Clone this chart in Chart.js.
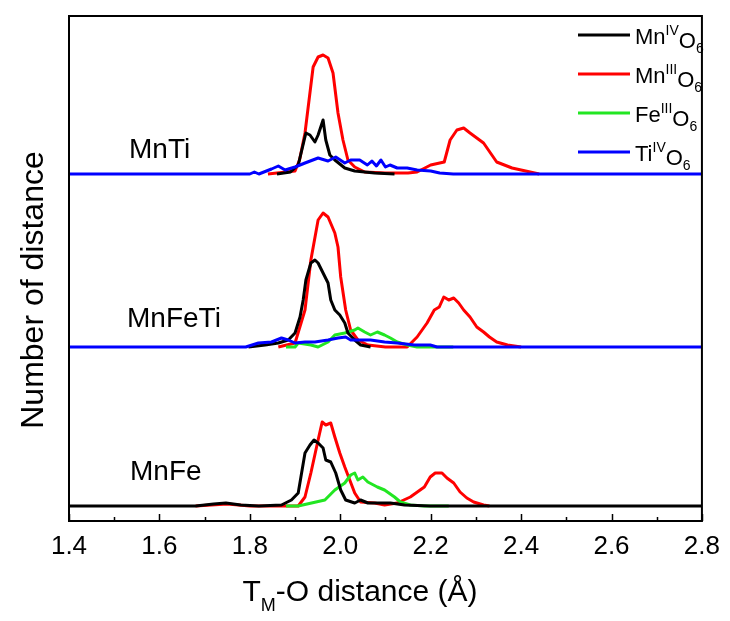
<!DOCTYPE html>
<html>
<head>
<meta charset="utf-8">
<script src="https://cdn.jsdelivr.net/npm/chart.js@4.4.1/dist/chart.umd.min.js"></script>
<style>
  html, body { margin: 0; padding: 0; background: #fff; }
  #wrap { width: 730px; height: 621px; position: relative; }
</style>
</head>
<body>
<div id="wrap"><canvas id="chart" width="730" height="621"></canvas></div>
<script>
// panels, stacked from top to bottom, each with its own baseline offset
const panelNames = ['MnTi', 'MnFeTi', 'MnFe'];
const panelOffsets = [34.7, 17.4, 1.5];

// x ticks (distance in Angstrom)
const xTicks = [1.4, 1.6, 1.8, 2.0, 2.2, 2.4, 2.6, 2.8];

// MnTi
const mnTi_MnIV_d = [1.86, 1.89, 1.907, 1.924, 1.933, 1.944, 1.951, 1.962, 1.968, 1.977, 1.988, 2.01, 2.032, 2.076, 2.12];
const mnTi_MnIV_n = [0, 0.2, 0.9, 4.1, 3.9, 3.2, 3.9, 5.4, 3.4, 1.9, 1.4, 0.6, 0.3, 0.1, 0];
const mnTi_MnIII_d = [1.84, 1.86, 1.9, 1.91, 1.922, 1.94, 1.951, 1.962, 1.973, 1.984, 1.995, 2.006, 2.017, 2.032, 2.054, 2.1, 2.15, 2.17, 2.2, 2.23, 2.243, 2.258, 2.273, 2.287, 2.302, 2.317, 2.346, 2.38, 2.4, 2.42, 2.44];
const mnTi_MnIII_n = [0, 0.1, 0.3, 1.4, 4.1, 10.7, 11.7, 11.9, 11.6, 10.1, 6.1, 3.4, 1.4, 0.7, 0.2, 0.1, 0.1, 0.2, 0.9, 1.2, 3.4, 4.4, 4.6, 4.1, 3.6, 3.1, 1.2, 0.6, 0.4, 0.2, 0];
const mnTi_TiIV_d = [1.4, 1.8, 1.81, 1.82, 1.848, 1.863, 1.878, 1.9, 1.922, 1.951, 1.973, 1.99, 2.01, 2.023, 2.043, 2.06, 2.07, 2.08, 2.09, 2.1, 2.11, 2.126, 2.148, 2.17, 2.2, 2.22, 2.25, 2.8];
const mnTi_TiIV_n = [0, 0, 0.2, 0, 0.5, 0.8, 0.4, 0.7, 1.1, 1.6, 1.3, 1.7, 1.1, 1.4, 1.4, 0.9, 1.3, 0.8, 1.4, 0.7, 0.9, 0.6, 0.6, 0.4, 0.3, 0.1, 0, 0];

// MnFeTi
const mnFeTi_MnIV_d = [1.797, 1.834, 1.863, 1.885, 1.9, 1.911, 1.918, 1.924, 1.935, 1.944, 1.951, 1.962, 1.973, 1.979, 1.988, 1.999, 2.01, 2.017, 2.032, 2.045, 2.067];
const mnFeTi_MnIV_n = [0, 0.2, 0.4, 0.7, 1.4, 3.0, 4.7, 6.7, 8.4, 8.7, 8.4, 7.4, 6.4, 4.7, 3.7, 3.2, 2.4, 1.4, 0.7, 0.2, 0];
const mnFeTi_MnIII_d = [1.863, 1.9, 1.922, 1.935, 1.951, 1.962, 1.973, 1.988, 1.995, 2.001, 2.012, 2.023, 2.039, 2.061, 2.1, 2.148, 2.17, 2.192, 2.208, 2.219, 2.229, 2.24, 2.251, 2.262, 2.273, 2.287, 2.302, 2.317, 2.33, 2.346, 2.37, 2.4];
const mnFeTi_MnIII_n = [0, 0.4, 3.7, 8.7, 12.7, 13.4, 13.0, 11.4, 10.0, 7.0, 3.7, 1.7, 0.7, 0.2, 0, 0, 1.0, 2.4, 3.7, 4.0, 5.0, 4.7, 4.9, 4.4, 3.7, 3.0, 2.0, 1.5, 1.0, 0.5, 0.2, 0];
const mnFeTi_FeIII_d = [1.88, 1.9, 1.907, 1.935, 1.951, 1.973, 1.988, 2.01, 2.032, 2.039, 2.054, 2.067, 2.082, 2.098, 2.111, 2.126, 2.148, 2.17, 2.25];
const mnFeTi_FeIII_n = [0, 0, 0.4, 0.2, 0, 0.5, 1.2, 1.4, 1.7, 1.9, 1.5, 1.2, 1.5, 1.2, 0.9, 0.5, 0.2, 0, 0];
const mnFeTi_TiIV_d = [1.4, 1.791, 1.819, 1.848, 1.87, 1.885, 1.9, 1.922, 1.944, 1.973, 1.995, 2.012, 2.023, 2.045, 2.067, 2.098, 2.126, 2.164, 2.199, 2.214, 2.8];
const mnFeTi_TiIV_n = [0, 0, 0.4, 0.5, 0.9, 0.7, 0.4, 0.5, 0.5, 0.7, 0.9, 1.0, 0.7, 0.7, 0.7, 0.5, 0.4, 0.2, 0.2, 0, 0];

// MnFe
const mnFe_MnIV_d = [1.4, 1.68, 1.72, 1.747, 1.78, 1.82, 1.87, 1.892, 1.907, 1.913, 1.922, 1.933, 1.942, 1.951, 1.962, 1.968, 1.979, 1.99, 2.001, 2.012, 2.032, 2.045, 2.061, 2.089, 2.111, 2.142, 2.199, 2.8];
const mnFe_MnIV_n = [0, 0, 0.2, 0.3, 0.1, 0, 0.1, 0.6, 1.3, 2.9, 5.3, 6.1, 6.6, 6.3, 5.8, 4.6, 4.4, 3.3, 1.6, 0.6, 0.3, 0.6, 0.3, 0.3, 0.3, 0.1, 0, 0];
const mnFe_MnIII_d = [1.68, 1.75, 1.8, 1.907, 1.922, 1.935, 1.951, 1.96, 1.968, 1.979, 1.988, 1.999, 2.01, 2.021, 2.032, 2.045, 2.076, 2.098, 2.126, 2.155, 2.186, 2.199, 2.21, 2.225, 2.236, 2.251, 2.265, 2.28, 2.295, 2.317, 2.33];
const mnFe_MnIII_n = [0, 0.2, 0, 0, 0.9, 3.3, 6.6, 8.4, 8.1, 8.3, 6.9, 5.3, 3.9, 2.6, 1.3, 0.4, 0.3, 0.1, 0.3, 0.9, 1.9, 2.9, 3.3, 3.3, 2.8, 2.3, 1.4, 0.8, 0.4, 0.1, 0];
const mnFe_FeIII_d = [1.88, 1.907, 1.966, 1.988, 2.01, 2.023, 2.032, 2.039, 2.05, 2.061, 2.082, 2.098, 2.12, 2.133, 2.155, 2.186, 2.24];
const mnFe_FeIII_n = [0, 0, 0.6, 1.6, 2.3, 3.1, 3.3, 2.6, 2.9, 2.4, 1.9, 1.6, 0.9, 0.4, 0.1, 0, 0];

// legend entries: [base, superscript, subscript]
const legendLabels = [['Mn', 'IV', '6'], ['Mn', 'III', '6'], ['Fe', 'III', '6'], ['Ti', 'IV', '6']];
const colors = { MnIV: '#000000', MnIII: '#ff0000', FeIII: '#22e622', TiIV: '#0000ff' };
const legendColors = [colors.MnIV, colors.MnIII, colors.FeIII, colors.TiIV];

const FONT = "'Liberation Sans', Arial, sans-serif";

function pts(d, n, off) {
    return d.map((v, i) => ({ x: v, y: off + n[i] }));
}

function series(d, n, panel, color) {
    return {
        data: pts(d, n, panelOffsets[panel]),
        borderColor: color,
        backgroundColor: color,
        borderWidth: 3,
        showLine: true,
        pointRadius: 0,
        tension: 0,
        borderJoinStyle: 'round'
    };
}

// first dataset is drawn on top
const datasets = [
    series(mnTi_TiIV_d, mnTi_TiIV_n, 0, colors.TiIV),
    series(mnTi_MnIV_d, mnTi_MnIV_n, 0, colors.MnIV),
    series(mnTi_MnIII_d, mnTi_MnIII_n, 0, colors.MnIII),
    series(mnFeTi_TiIV_d, mnFeTi_TiIV_n, 1, colors.TiIV),
    series(mnFeTi_MnIV_d, mnFeTi_MnIV_n, 1, colors.MnIV),
    series(mnFeTi_FeIII_d, mnFeTi_FeIII_n, 1, colors.FeIII),
    series(mnFeTi_MnIII_d, mnFeTi_MnIII_n, 1, colors.MnIII),
    series(mnFe_MnIV_d, mnFe_MnIV_n, 2, colors.MnIV),
    series(mnFe_FeIII_d, mnFe_FeIII_n, 2, colors.FeIII),
    series(mnFe_MnIII_d, mnFe_MnIII_n, 2, colors.MnIII)
];

// draw a run of text pieces (size, vertical shift) starting at x
function drawRuns(ctx, x, y, runs, align) {
    let total = 0;
    runs.forEach(r => {
        ctx.font = r.size + 'px ' + FONT;
        r.w = ctx.measureText(r.t).width;
        total += r.w;
    });
    let cx = align === 'center' ? x - total / 2 : x;
    ctx.textAlign = 'left';
    ctx.textBaseline = 'alphabetic';
    runs.forEach(r => {
        ctx.font = r.size + 'px ' + FONT;
        ctx.fillText(r.t, cx, y + (r.dy || 0));
        cx += r.w;
    });
}

const decor = {
    id: 'decor',
    afterDraw(chart) {
        const ctx = chart.ctx;
        const a = chart.chartArea;
        const x = chart.scales.x;
        ctx.save();
        ctx.fillStyle = '#000';
        ctx.strokeStyle = '#000';

        // frame
        ctx.lineWidth = 2;
        ctx.strokeRect(a.left, a.top, a.right - a.left, a.bottom - a.top);

        // inward ticks, major every 0.2 and minor in between
        ctx.lineWidth = 1.5;
        ctx.beginPath();
        xTicks.forEach((t, i) => {
            const px = Math.round(x.getPixelForValue(t)) + 0.5;
            ctx.moveTo(px, a.bottom);
            ctx.lineTo(px, a.bottom - 7);
            if (i < xTicks.length - 1) {
                const mx = Math.round(x.getPixelForValue((t + xTicks[i + 1]) / 2)) + 0.5;
                ctx.moveTo(mx, a.bottom);
                ctx.lineTo(mx, a.bottom - 4);
            }
        });
        ctx.stroke();

        // panel names
        const labelPos = [[129, 158], [127, 327], [130, 480]];
        ctx.font = '28px ' + FONT;
        ctx.textAlign = 'left';
        ctx.textBaseline = 'alphabetic';
        panelNames.forEach((p, i) => ctx.fillText(p, labelPos[i][0], labelPos[i][1]));

        // legend
        legendLabels.forEach((l, i) => {
            const ly = 35 + i * 39;
            ctx.strokeStyle = legendColors[i];
            ctx.lineWidth = 3;
            ctx.beginPath();
            ctx.moveTo(578, ly);
            ctx.lineTo(630, ly);
            ctx.stroke();
            ctx.fillStyle = '#000';
            drawRuns(ctx, 635, ly + 9, [
                { t: l[0], size: 22 },
                { t: l[1], size: 14, dy: -9 },
                { t: 'O', size: 22, dy: 4 },
                { t: l[2], size: 14, dy: 9 }
            ], 'left');
        });

        // x title with subscript
        drawRuns(ctx, 360, 601, [
            { t: 'T', size: 30 },
            { t: 'M', size: 18, dy: 10 },
            { t: '-O distance (\u00c5)', size: 30 }
        ], 'center');

        // y title
        ctx.translate(43, 290);
        ctx.rotate(-Math.PI / 2);
        ctx.font = '32px ' + FONT;
        ctx.textAlign = 'center';
        ctx.fillText('Number of distance', 0, 0);
        ctx.restore();
    }
};

new Chart(document.getElementById('chart'), {
    type: 'scatter',
    data: { datasets: datasets },
    options: {
        responsive: false,
        animation: false,
        layout: { padding: { left: 69, right: 23, top: 16, bottom: 0 } },
        plugins: { legend: { display: false }, tooltip: { enabled: false } },
        scales: {
            x: {
                type: 'linear',
                min: 1.4,
                max: 2.8,
                border: { display: false },
                grid: { display: false, drawTicks: false },
                afterBuildTicks: s => { s.ticks = xTicks.map(v => ({ value: v })); },
                afterFit: s => { s.height = 100; },
                ticks: {
                    autoSkip: false,
                    maxRotation: 0,
                    padding: 10,
                    color: '#000',
                    font: { family: FONT, size: 26 },
                    callback: v => v.toFixed(1)
                }
            },
            y: {
                display: false,
                min: 0,
                max: 50.5
            }
        }
    },
    plugins: [decor]
});
</script>
</body>
</html>
